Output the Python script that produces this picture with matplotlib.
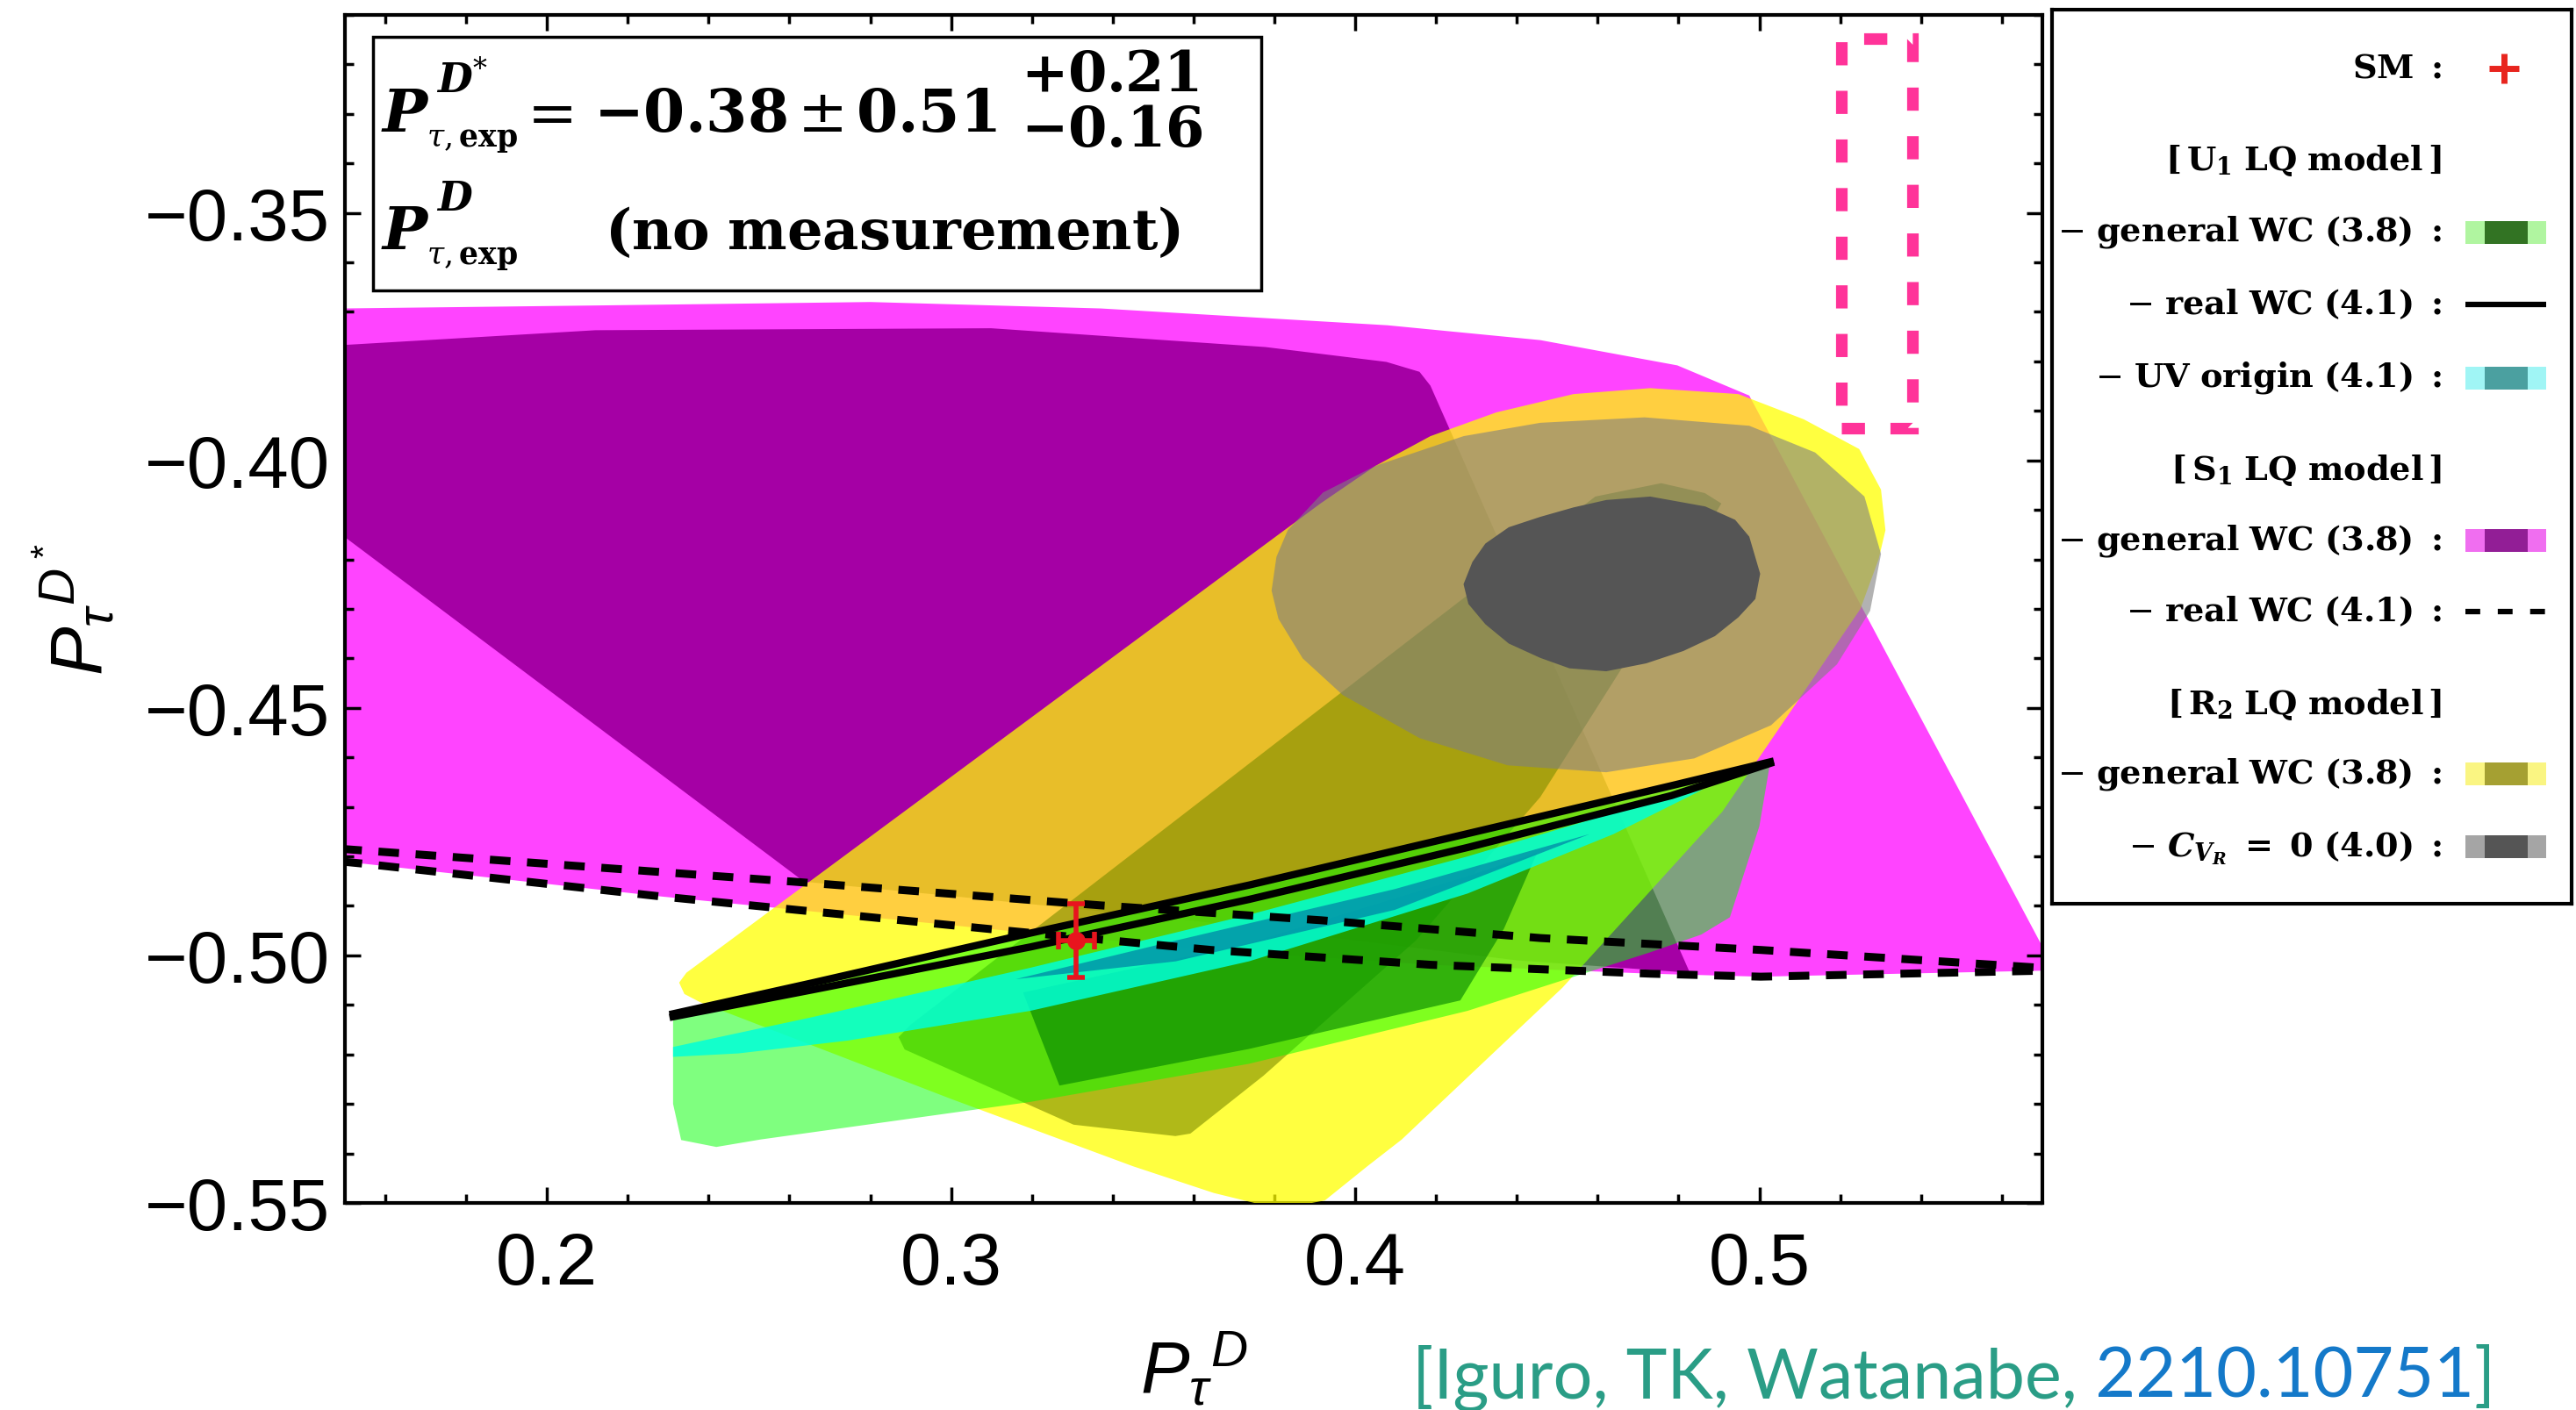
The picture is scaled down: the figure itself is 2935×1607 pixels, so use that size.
import matplotlib
matplotlib.use("Agg")
import matplotlib.pyplot as plt
from matplotlib.patches import Rectangle
from matplotlib.ticker import MultipleLocator

# ---------------- data (x = P_tau^D, y = P_tau^D*) ----------------
x_limits = (0.15, 0.57)
y_limits = (-0.55, -0.31)
x_ticks = [0.2, 0.3, 0.4, 0.5]
x_tick_labels = ["0.2", "0.3", "0.4", "0.5"]
y_ticks = [-0.55, -0.50, -0.45, -0.40, -0.35]
y_tick_labels = ["\u22120.55", "\u22120.50", "\u22120.45", "\u22120.40", "\u22120.35"]

# SM prediction
sm_x, sm_y = 0.331, -0.497
sm_xerr, sm_yerr = 0.0045, 0.0075

# S1 LQ, general WC (outer / inner)
s1_gen_out_x = [0.14, 0.1494, 0.212, 0.280, 0.337, 0.408, 0.4458, 0.4797, 0.4975, 0.5697, 0.575,
                0.575, 0.5003, 0.4731, 0.4187, 0.3643, 0.3099, 0.2283, 0.1549, 0.14]
s1_gen_out_y = [-0.3695, -0.3693, -0.3687, -0.3680, -0.3693, -0.3727, -0.3757, -0.3808, -0.3869, -0.4977, -0.5059,
                -0.5030, -0.5043, -0.5037, -0.5019, -0.4989, -0.4947, -0.4881, -0.4815, -0.4803]
s1_gen_in_x = [0.14, 0.1494, 0.212, 0.3099, 0.3778, 0.4077, 0.4159, 0.4186, 0.4828, 0.4400, 0.3600,
               0.3000, 0.2636, 0.15, 0.14]
s1_gen_in_y = [-0.3772, -0.3767, -0.3737, -0.3733, -0.3771, -0.3801, -0.3821, -0.3849, -0.5035, -0.5010, -0.4930,
               -0.4880, -0.4851, -0.4155, -0.4094]

# S1 LQ, real WC (two dashed boundaries)
s1_real_up_x = [0.14, 0.1494, 0.2609, 0.3371, 0.3915, 0.4459, 0.5003, 0.5697, 0.575]
s1_real_up_y = [-0.4773, -0.4785, -0.4851, -0.4899, -0.4929, -0.4965, -0.4989, -0.5025, -0.5028]
s1_real_lo_x = [0.14, 0.1549, 0.2283, 0.3099, 0.3643, 0.4187, 0.4731, 0.5003, 0.5697, 0.575]
s1_real_lo_y = [-0.4803, -0.4815, -0.4881, -0.4947, -0.4989, -0.5019, -0.5037, -0.5043, -0.5031, -0.5030]

# R2 LQ, general WC (outer / inner)
r2_gen_out_x = [0.2345, 0.2327, 0.2340, 0.2380, 0.3000, 0.3450, 0.3650, 0.3750, 0.3830, 0.3925, 0.4030,
                0.4115, 0.4513, 0.4908, 0.5100, 0.5250, 0.5295, 0.5312, 0.5301, 0.5247, 0.5110, 0.4948,
                0.4730, 0.4540, 0.4349, 0.4186, 0.4050, 0.3914]
r2_gen_out_y = [-0.5035, -0.5055, -0.5078, -0.5095, -0.5290, -0.5426, -0.5480, -0.5500, -0.5510, -0.5495, -0.5426,
                -0.5372, -0.5065, -0.4710, -0.4480, -0.4300, -0.4200, -0.4141, -0.4059, -0.3977, -0.3917, -0.3866,
                -0.3854, -0.3866, -0.3903, -0.3951, -0.4011, -0.4087]
r2_gen_in_x = [0.4594, 0.4757, 0.4865, 0.4906, 0.4675, 0.4458, 0.4150, 0.3773, 0.3592, 0.3555, 0.3303,
               0.2885, 0.2870, 0.2900]
r2_gen_in_y = [-0.4073, -0.4046, -0.4066, -0.4087, -0.4400, -0.4680, -0.4970, -0.5243, -0.5360, -0.5365, -0.5342,
               -0.5190, -0.5165, -0.5140]

# R2 LQ, C_VR = 0 (outer / inner)
r2_cvr_out_x = [0.3793, 0.3805, 0.3833, 0.3920, 0.4050, 0.4268, 0.4458, 0.4716, 0.4975, 0.5138, 0.5260,
                0.5301, 0.5274, 0.5192, 0.5029, 0.4839, 0.4621, 0.4377, 0.4159, 0.3969, 0.3870, 0.3810]
r2_cvr_out_y = [-0.4263, -0.4195, -0.4141, -0.4065, -0.4011, -0.3951, -0.3924, -0.3913, -0.3930, -0.3984, -0.4073,
                -0.4189, -0.4304, -0.4412, -0.4535, -0.4602, -0.4630, -0.4616, -0.4561, -0.4474, -0.4400, -0.4320]
r2_cvr_in_x = [0.4268, 0.4290, 0.4322, 0.4380, 0.4458, 0.4540, 0.4621, 0.4730, 0.4866, 0.4940, 0.4975,
               0.5002, 0.4990, 0.4948, 0.4890, 0.4812, 0.4720, 0.4621, 0.4530, 0.4458, 0.4380, 0.4322, 0.4280]
r2_cvr_in_y = [-0.4250, -0.4205, -0.4168, -0.4135, -0.4114, -0.4095, -0.4080, -0.4073, -0.4093, -0.4120, -0.4154,
               -0.4229, -0.4280, -0.4317, -0.4355, -0.4385, -0.4410, -0.4426, -0.4420, -0.4399, -0.4370, -0.4331,
               -0.4290]

# U1 LQ, general WC (outer / inner)
u1_gen_out_x = [0.2312, 0.2654, 0.3196, 0.3737, 0.4278, 0.4783, 0.5027, 0.5000, 0.4927, 0.4856, 0.4729,
                0.4549, 0.4278, 0.3737, 0.3196, 0.2528, 0.2419, 0.2332, 0.2312]
u1_gen_out_y = [-0.5118, -0.5056, -0.4955, -0.4858, -0.4754, -0.4657, -0.4609, -0.4739, -0.4923, -0.4958, -0.4994,
                -0.5041, -0.5112, -0.5219, -0.5296, -0.5372, -0.5387, -0.5373, -0.5300]
u1_gen_in_x = [0.3178, 0.3268, 0.3737, 0.4260, 0.4368, 0.4450, 0.4278, 0.3737]
u1_gen_in_y = [-0.5075, -0.5263, -0.5189, -0.5091, -0.4946, -0.4793, -0.4840, -0.4975]

# U1 LQ, UV origin (outer / inner)
u1_uv_out_x = [0.2312, 0.2655, 0.3196, 0.3737, 0.4278, 0.4639, 0.4860, 0.4639, 0.4278, 0.3737, 0.3196,
               0.2745, 0.2474, 0.2312]
u1_uv_out_y = [-0.5185, -0.5125, -0.5025, -0.4918, -0.4800, -0.4712, -0.4665, -0.4755, -0.4875, -0.5012, -0.5112,
               -0.5172, -0.5198, -0.5205]
u1_uv_in_x = [0.3160, 0.3556, 0.4098, 0.4580, 0.4098, 0.3556]
u1_uv_in_y = [-0.5048, -0.4970, -0.4866, -0.4755, -0.4908, -0.5012]

# U1 LQ, real WC (two solid boundaries)
u1_real_x = [0.2312, 0.2654, 0.3196, 0.3737, 0.4278, 0.4783, 0.5027]
u1_real_up_y = [-0.5118, -0.5056, -0.4955, -0.4858, -0.4754, -0.4657, -0.4609]
u1_real_lo_y = [-0.5124, -0.5070, -0.4983, -0.4887, -0.4782, -0.4677, -0.4612]

# highlighted box (pink dashed)
box_x0, box_x1 = 0.5202, 0.5378
box_y0, box_y1 = -0.3935, -0.3147

# experimental values text, split in pieces: (text, size, left px, baseline px from top)
exp_pieces = [
    (r"$\mathbfit{P}$", 49, 434, 150),
    (r"$\mathbfit{D}^{*}$", 33, 497, 106),
    (r"$\tau,\mathbf{exp}$", 25, 486, 167),
    (r"$=$", 49, 588, 150),
    (r"$\mathbf{-0.38}$", 49, 676, 150),
    (r"$\pm$", 49, 908, 150),
    (r"$\mathbf{0.51}$", 49, 975, 150),
    (r"$\mathbf{+0.21}$", 46, 1163, 104),
    (r"$\mathbf{-0.16}$", 46, 1163, 167),
    (r"$\mathbfit{P}$", 49, 434, 284),
    (r"$\mathbfit{D}$", 33, 497, 240),
    (r"$\tau,\mathbf{exp}$", 25, 486, 301),
    (r"$\mathbf{(no\ measurement)}$", 46, 689, 284),
]

# legend rows
legend_labels = [
    r"$\mathbf{SM\ :}$",
    r"$\mathbf{[\,U_1\ LQ\ model\,]}$",
    r"$-\ \mathbf{general\ WC\ (3.8)\ :}$",
    r"$-\ \mathbf{real\ WC\ (4.1)\ :}$",
    r"$-\ \mathbf{UV\ origin\ (4.1)\ :}$",
    r"$\mathbf{[\,S_1\ LQ\ model\,]}$",
    r"$-\ \mathbf{general\ WC\ (3.8)\ :}$",
    r"$-\ \mathbf{real\ WC\ (4.1)\ :}$",
    r"$\mathbf{[\,R_2\ LQ\ model\,]}$",
    r"$-\ \mathbf{general\ WC\ (3.8)\ :}$",
    r"$-\ \mathbfit{C}_{\mathbfit{V}_{\mathbfit{R}}}\mathbf{\ =\ 0\ (4.0)\ :}$",
]
legend_kinds = ["marker", None, "patch", "solid", "patch", None, "patch", "dashed", None, "patch", "patch"]
legend_colors = [None, None, ("#B0F5A0", "#327323"), None, ("#A0F5F5", "#4BA0A0"), None,
                 ("#F06EF0", "#921E96"), None, None, ("#FAF582", "#A5A032"), ("#A5A5A5", "#555555")]
legend_base_y = [89, 194, 275, 358, 441, 547, 627, 708, 814, 893, 976]

citation_parts = ["[Iguro, TK, Watanabe,", " 2210.10751", "]"]
citation_colors = ["#2A9D86", "#1479C9", "#2A9D86"]

# ---------------- figure ----------------
plt.rcParams['font.family'] = ['Liberation Sans', 'DejaVu Sans']
plt.rcParams['mathtext.fontset'] = 'custom'
plt.rcParams['mathtext.rm'] = 'Liberation Sans'
plt.rcParams['mathtext.it'] = 'Liberation Sans:italic'
plt.rcParams['mathtext.bf'] = 'Liberation Sans:bold'

W, H = 2935, 1608
fig = plt.figure(figsize=(W / 100, H / 100), dpi=100)
ax = fig.add_axes([0.1339, 0.1468, 0.6589, 0.8420])


def region(xs, ys, color, alpha, z):
    ax.fill(xs, ys, color=color, alpha=alpha, lw=0, zorder=z)


region(s1_gen_out_x, s1_gen_out_y, "#FF44FF", 1.0, 1)
region(s1_gen_in_x, s1_gen_in_y, "#A500A5", 1.0, 2)
region(r2_gen_out_x, r2_gen_out_y, (1.0, 1.0, 0.0), 0.75, 3)
region(r2_gen_in_x, r2_gen_in_y, (0.5, 0.56, 0.0), 0.62, 4)
region(r2_cvr_out_x, r2_cvr_out_y, (0.5, 0.5, 0.5), 0.6, 5)
region(r2_cvr_in_x, r2_cvr_in_y, "#555555", 1.0, 6)
region(u1_gen_out_x, u1_gen_out_y, (0.0, 1.0, 0.0), 0.5, 7)
region(u1_gen_in_x, u1_gen_in_y, (0.0, 0.5, 0.0), 0.6, 8)
region(u1_uv_out_x, u1_uv_out_y, (0.0, 1.0, 0.85), 0.85, 9)
region(u1_uv_in_x, u1_uv_in_y, (0.0, 0.5, 0.65), 0.7, 10)

dash = (0, (2.6, 2.1))
ax.plot(s1_real_up_x, s1_real_up_y, color="black", lw=6.5, ls=dash, zorder=11)
ax.plot(s1_real_lo_x, s1_real_lo_y, color="black", lw=6.5, ls=dash, zorder=11)
ax.plot(u1_real_x, u1_real_up_y, color="black", lw=6, zorder=12, solid_joinstyle="round")
ax.plot(u1_real_x, u1_real_lo_y, color="black", lw=6, zorder=12, solid_joinstyle="round")

ax.errorbar(sm_x, sm_y, xerr=sm_xerr, yerr=sm_yerr, fmt="o", color="#E8141E", ms=14,
            elinewidth=4, capsize=7, capthick=4, zorder=13)

ax.add_patch(Rectangle((box_x0, box_y0), box_x1 - box_x0, box_y1 - box_y0, fill=False,
                       ec="#FF3399", lw=9.5, ls=(0, (2.0, 2.2)), zorder=25))

ax.set_xlim(*x_limits)
ax.set_ylim(*y_limits)
ax.set_xticks(x_ticks, labels=x_tick_labels)
ax.set_yticks(y_ticks, labels=y_tick_labels)
ax.xaxis.set_minor_locator(MultipleLocator(0.02))
ax.yaxis.set_minor_locator(MultipleLocator(0.01))
ax.tick_params(which="both", direction="in", top=True, right=True, width=2.5)
ax.tick_params(which="major", length=13, labelsize=60)
ax.tick_params(which="minor", length=7)
ax.tick_params(axis="x", pad=22)
ax.tick_params(axis="y", pad=12)
for s in ax.spines.values():
    s.set_linewidth(3)

ax.set_xlabel(r"$P_\tau{}^{D}$", fontsize=60, labelpad=26)
ax.set_ylabel(r"$P_\tau{}^{D^*}$", fontsize=60, labelpad=22)

# experimental values box
ax.add_patch(Rectangle((0.0165, 0.7681), 0.5233, 0.2134, transform=ax.transAxes, fc="white",
                       ec="black", lw=2.5, zorder=20))
for s, fs, xp, yp in exp_pieces:
    fig.text(xp / W, 1 - yp / H, s, fontsize=fs, va="baseline", ha="left", math_fontfamily="dejavuserif")

# legend panel
lax = fig.add_axes([2338 / W, 1 - 1031 / H, (2930 - 2338) / W, (1031 - 12) / H])
lax.set_xlim(2338, 2930)
lax.set_ylim(1031, 12)
lax.set_xticks([])
lax.set_yticks([])
for s in lax.spines.values():
    s.set_linewidth(3)

for label, kind, cols, yb in zip(legend_labels, legend_kinds, legend_colors, legend_base_y):
    lax.text(2782, yb, label, ha="right", va="baseline", fontsize=27.5, math_fontfamily="dejavuserif")
    yc = yb - 9.5
    if kind == "patch":
        lax.add_patch(Rectangle((2809, yc - 13), 92, 26, fc=cols[0], lw=0))
        lax.add_patch(Rectangle((2831, yc - 13), 49, 26, fc=cols[1], lw=0))
    elif kind == "solid":
        lax.plot([2809, 2901], [yc, yc], color="black", lw=4.5, solid_capstyle="butt")
    elif kind == "dashed":
        lax.plot([2809, 2901], [yc, yc], color="black", lw=4.5, ls=(0, (2.7, 3.2)))
    elif kind == "marker":
        lax.plot([2853], [yc], marker="+", color="#E8251E", ms=24, mew=5)

# citation
cite = [fig.text(1609 / W, 1 - 1593 / H, citation_parts[0], color=citation_colors[0],
                 fontsize=57, family="Lato", va="baseline")]
for part, col in zip(citation_parts[1:], citation_colors[1:]):
    cite.append(fig.text(0, 0, part, color=col, fontsize=57, family="Lato", va="baseline"))
fig.canvas.draw()
for i in range(1, 3):
    bb = cite[i - 1].get_window_extent()
    cite[i].set_position((bb.x1 / fig.bbox.width, cite[0].get_position()[1]))

fig.savefig("out.png", dpi=100)
